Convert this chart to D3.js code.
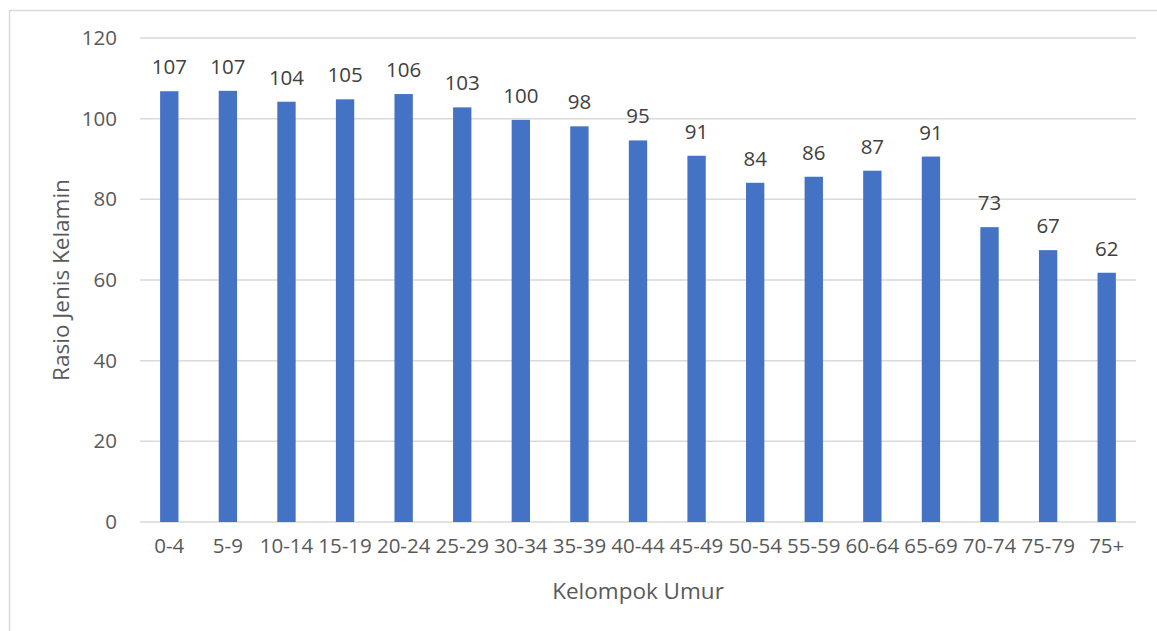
<!DOCTYPE html>
<html>
<head>
<meta charset="utf-8">
<script src="https://cdn.jsdelivr.net/npm/d3@7"></script>
<style>
  html, body { margin: 0; padding: 0; background: #fff; }
  svg { display: block; }
  text { font-family: "Open Sans", sans-serif; }
</style>
</head>
<body>
<svg id="chart" width="1157" height="631"></svg>
<script>
const categories = ["0-4","5-9","10-14","15-19","20-24","25-29","30-34","35-39","40-44","45-49","50-54","55-59","60-64","65-69","70-74","75-79","75+"];
const values = [106.8, 106.9, 104.2, 104.8, 106.1, 102.8, 99.7, 98.1, 94.6, 90.8, 84.1, 85.6, 87.1, 90.6, 73.1, 67.4, 61.8];
const yTicks = [0, 20, 40, 60, 80, 100, 120];
const xTitle = "Kelompok Umur";
const yTitle = "Rasio Jenis Kelamin";

const svg = d3.select("#chart");
const W = 1157, H = 631;
const m = { left: 140, right: 21, top: 38, bottom: 109 };

// outer border
svg.append("rect")
  .attr("x", 9.5).attr("y", 10.5)
  .attr("width", W + 10).attr("height", H + 10)
  .attr("fill", "none").attr("stroke", "#d9d9d9").attr("stroke-width", 1.5);

const x = d3.scaleBand().domain(categories)
  .range([m.left, W - m.right]).paddingInner(0.687).paddingOuter(0.3435);
const y = d3.scaleLinear().domain([0, 120]).range([H - m.bottom, m.top]);

// gridlines
const grid = svg.append("g");
grid.selectAll("line").data(yTicks).join("line")
  .attr("x1", m.left).attr("x2", W - m.right)
  .attr("y1", d => y(d)).attr("y2", d => y(d))
  .attr("stroke", "#d9d9d9").attr("stroke-width", 1.5);

// y axis labels
const yAxis = d3.axisLeft(y).tickValues(yTicks).tickSize(0).tickPadding(23);
const gy = svg.append("g").attr("transform", `translate(${m.left},0)`).call(yAxis);
gy.select(".domain").remove();
gy.selectAll("text").attr("fill", "#595959").style("font-size", "20.5px").style("font-family", "'Open Sans', sans-serif");

// x axis labels
const xAxis = d3.axisBottom(x).tickSize(0).tickPadding(16);
const gx = svg.append("g").attr("transform", `translate(0,${H - m.bottom})`).call(xAxis);
gx.select(".domain").remove();
gx.selectAll("text").attr("fill", "#595959").style("font-size", "20.5px").style("font-family", "'Open Sans', sans-serif");

// bars
svg.append("g").selectAll("rect").data(values).join("rect")
  .attr("x", (d, i) => x(categories[i]))
  .attr("width", x.bandwidth())
  .attr("y", d => y(d))
  .attr("height", d => y(0) - y(d))
  .attr("fill", "#4472c4");

// data labels
svg.append("g").selectAll("text").data(values).join("text")
  .attr("x", (d, i) => x(categories[i]) + x.bandwidth() / 2)
  .attr("y", d => y(d) - 17)
  .attr("text-anchor", "middle")
  .attr("fill", "#404040")
  .style("font-size", "20.5px")
  .text(d => d3.format(".0f")(d));

// axis titles
svg.append("text")
  .attr("x", 638).attr("y", 599)
  .attr("text-anchor", "middle").attr("fill", "#595959")
  .style("font-size", "22.5px").text(xTitle);

svg.append("text")
  .attr("transform", `translate(69,${(y(0) + y(120)) / 2}) rotate(-90)`)
  .attr("text-anchor", "middle").attr("fill", "#595959")
  .style("font-size", "22.5px").text(yTitle);
</script>
</body>
</html>
